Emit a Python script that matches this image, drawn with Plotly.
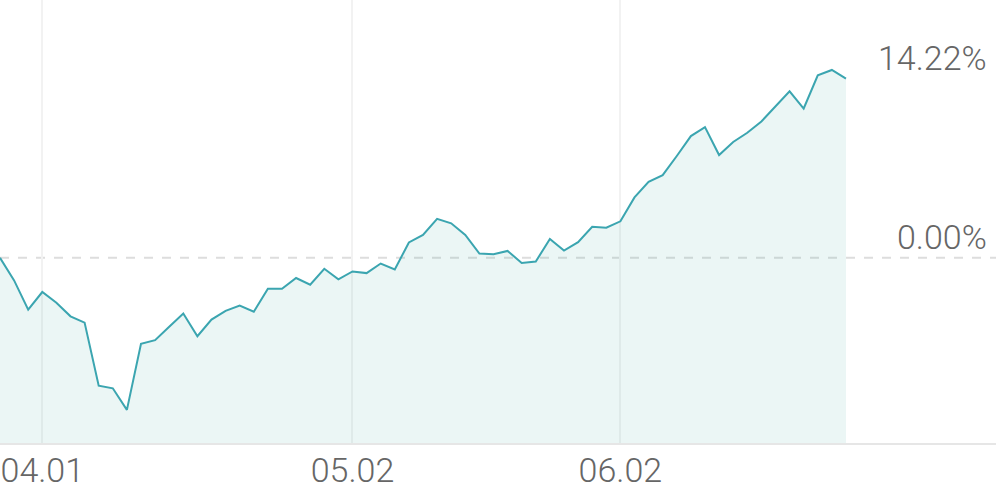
import plotly.graph_objects as go

# cumulative return (%) per trading day
returns = [0.00, -1.79, -4.11, -2.71, -3.56, -4.64, -5.14, -10.14, -10.35, -12.06,
           -6.82, -6.53, -5.47, -4.42, -6.22, -4.90, -4.21, -3.79, -4.27, -2.45,
           -2.45, -1.60, -2.13, -0.87, -1.71, -1.08, -1.21, -0.45, -0.92, 1.22,
           1.82, 3.10, 2.74, 1.82, 0.34, 0.29, 0.55, -0.40, -0.29, 1.50,
           0.58, 1.24, 2.47, 2.39, 2.90, 4.80, 6.03, 6.56, 8.08, 9.66,
           10.37, 8.16, 9.19, 9.93, 10.82, 12.03, 13.22, 11.85, 14.48, 14.91,
           14.22]
days = list(range(len(returns)))

tick_pos = [3, 25, 44]
tick_labels = ["04.01", "05.02", "06.02"]

y_labels = [14.22, 0.00]

y_min, y_max = -14.69, 20.46
x_max = 70.64

line_color = "#3ba5b0"
fill_color = "rgba(59,165,160,0.10)"
font_family = "Roboto"

fig = go.Figure()
fig.add_trace(go.Scatter(x=days, y=[y_min] * len(days), mode="lines",
                         line=dict(width=0), hoverinfo="skip", showlegend=False))
fig.add_trace(go.Scatter(x=days, y=returns, mode="lines", fill="tonexty",
                         fillcolor=fill_color,
                         line=dict(color=line_color, width=2),
                         showlegend=False))

fig.add_shape(type="line", xref="paper", x0=0, x1=1, yref="y", y0=0, y1=0,
              line=dict(color="#dddddd", width=2, dash="dash"), layer="below")

for v in y_labels:
    fig.add_annotation(x=1, xref="paper", y=v, yref="y", text=f"{v:.2f}%",
                       showarrow=False, xanchor="right", yanchor="bottom",
                       xshift=-7, yshift=-1,
                       font=dict(family=font_family, size=34, color="#666666", weight=300))

fig.update_layout(
    width=996, height=490,
    margin=dict(l=0, r=0, t=0, b=41),
    paper_bgcolor="white", plot_bgcolor="white",
    xaxis=dict(range=[0, x_max], tickmode="array", tickvals=tick_pos, ticktext=tick_labels,
               showgrid=True, gridcolor="#f2f2f2", gridwidth=2, zeroline=False,
               showline=True, linecolor="#e6e6e6", linewidth=2,
               ticks="", ticklabelstandoff=-4,
               tickfont=dict(family=font_family, size=34, color="#666666", weight=300)),
    yaxis=dict(range=[y_min, y_max], showgrid=False, zeroline=False, showticklabels=False),
)

fig.write_html("out.html", config={"displayModeBar": False},
               post_script="document.body.style.margin='0';document.body.style.overflow='hidden';")
